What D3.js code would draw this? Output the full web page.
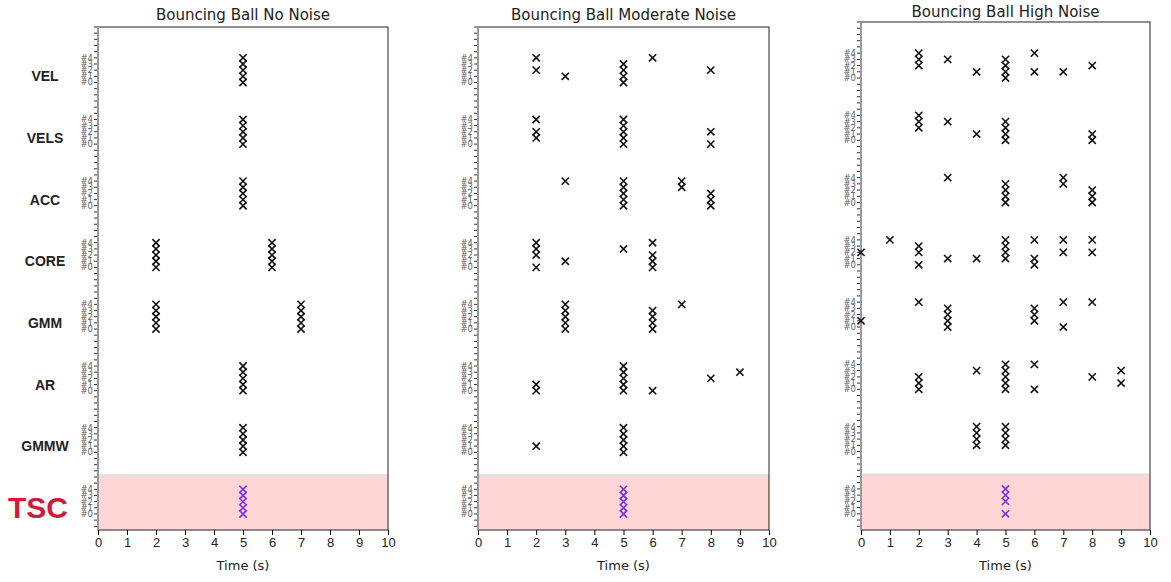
<!DOCTYPE html>
<html><head><meta charset="utf-8">
<script src="https://cdn.jsdelivr.net/npm/d3@7"></script>
<style>body{margin:0;background:#fff}svg{font-family:"DejaVu Sans",sans-serif}</style>
</head><body><svg id="c" width="1171" height="582"></svg>
<script>
const methods = ["VEL","VELS","ACC","CORE","GMM","AR","GMMW","TSC"];
const trialLabels = ["#0","#1","#2","#3","#4"];
const xTicks = [0,1,2,3,4,5,6,7,8,9,10];
const titles = ["Bouncing Ball No Noise","Bouncing Ball Moderate Noise","Bouncing Ball High Noise"];
// detections: [time, trial] per method per panel
const noNoise = {
  VEL:[[5,0],[5,1],[5,2],[5,3],[5,4]],
  VELS:[[5,0],[5,1],[5,2],[5,3],[5,4]],
  ACC:[[5,0],[5,1],[5,2],[5,3],[5,4]],
  CORE:[[2,0],[2,1],[2,2],[2,3],[2,4],[6,0],[6,1],[6,2],[6,3],[6,4]],
  GMM:[[2,0],[2,1],[2,2],[2,3],[2,4],[7,0],[7,1],[7,2],[7,3],[7,4]],
  AR:[[5,0],[5,1],[5,2],[5,3],[5,4]],
  GMMW:[[5,0],[5,1],[5,2],[5,3],[5,4]],
  TSC:[[5,0],[5,1],[5,2],[5,3],[5,4]]
};
const moderateNoise = {
  VEL:[[2,4],[2,2],[3,1],[5,0],[5,1],[5,2],[5,3],[6,4],[8,2]],
  VELS:[[2,4],[2,2],[2,1],[5,0],[5,1],[5,2],[5,3],[5,4],[8,2],[8,0]],
  ACC:[[3,4],[5,0],[5,1],[5,2],[5,3],[5,4],[7,4],[7,3],[8,2],[8,1],[8,0]],
  CORE:[[2,4],[2,3],[2,2],[2,0],[3,1],[5,3],[6,4],[6,2],[6,1],[6,0]],
  GMM:[[3,0],[3,1],[3,2],[3,3],[3,4],[6,0],[6,1],[6,2],[6,3],[7,4]],
  AR:[[2,1],[2,0],[5,0],[5,1],[5,2],[5,3],[5,4],[6,0],[8,2],[9,3]],
  GMMW:[[2,1],[5,0],[5,1],[5,2],[5,3],[5,4]],
  TSC:[[5,0],[5,1],[5,2],[5,3],[5,4]]
};
const highNoise = {
  VEL:[[2,4],[2,3],[2,2],[3,3],[4,1],[5,0],[5,1],[5,2],[5,3],[6,4],[6,1],[7,1],[8,2]],
  VELS:[[2,4],[2,3],[2,2],[3,3],[4,1],[5,0],[5,1],[5,2],[5,3],[8,1],[8,0]],
  ACC:[[3,4],[5,0],[5,1],[5,2],[5,3],[7,4],[7,3],[8,2],[8,1],[8,0]],
  CORE:[[0,2],[1,4],[2,3],[2,2],[2,0],[3,1],[4,1],[5,1],[5,2],[5,3],[5,4],[6,4],[6,1],[6,0],[7,4],[7,2],[8,4],[8,2]],
  GMM:[[0,1],[2,4],[3,0],[3,1],[3,2],[3,3],[6,1],[6,2],[6,3],[7,4],[7,0],[8,4]],
  AR:[[2,2],[2,1],[2,0],[4,3],[5,0],[5,1],[5,2],[5,3],[5,4],[6,4],[6,0],[8,2],[9,3],[9,1]],
  GMMW:[[4,1],[4,2],[4,3],[4,4],[5,1],[5,2],[5,3],[5,4]],
  TSC:[[5,0],[5,2],[5,3],[5,4]]
};
const panelsData = [noNoise, moderateNoise, highNoise];

const svg = d3.select("#c");
const frames = [
  {l:98,r:388,t:27,b:530,ty:15},
  {l:478,r:769,t:27,b:530,ty:15},
  {l:861,r:1150,t:22,b:530,ty:12}
];
const nRows = methods.length;
frames.forEach((f,pi)=>{
  const g = svg.append("g");
  const x = d3.scaleLinear().domain([0,10]).range([f.l,f.r]);
  const y = d3.scaleLinear().domain([-2.6, (nRows-1)*10+9]).range([f.b,f.t]);
  const base = m => (nRows-1-methods.indexOf(m))*10;
  g.append("rect").attr("x",f.l).attr("width",f.r-f.l)
    .attr("y",y(6.3)).attr("height",f.b-y(6.3)).attr("fill","#ffd6d6");
  g.append("line").attr("x1",f.l).attr("x2",f.r).attr("y1",y(6.3)).attr("y2",y(6.3))
    .attr("stroke","#ddd").attr("stroke-width",2);
  g.append("rect").attr("x",f.l).attr("y",f.t).attr("width",f.r-f.l).attr("height",f.b-f.t)
    .attr("fill","none").attr("stroke","#222").attr("stroke-width",1);
  const yt = d3.range(-2,(nRows-1)*10+10);
  g.selectAll(".yt").data(yt).join("line")
    .attr("x1",f.l-4).attr("x2",f.l).attr("y1",d=>y(d)).attr("y2",d=>y(d))
    .attr("stroke","#333").attr("stroke-width",1);
  g.append("line").attr("x1",f.l).attr("x2",f.l).attr("y1",f.t).attr("y2",f.b).attr("stroke","#999").attr("stroke-width",2);
  methods.forEach(m=>{
    trialLabels.forEach((lab,j)=>{
      g.append("text").attr("x",f.l-5).attr("y",y(base(m)+j)+3)
        .attr("text-anchor","end").attr("font-size",8.5).attr("fill","#666").text(lab);
    });
    if(pi===0){
      const isT = m==="TSC";
      g.append("text").attr("x",isT?38:45).attr("y",y(base(m)+1)+(isT?10:5))
        .attr("text-anchor","middle").attr("font-weight","bold")
        .attr("font-family","Liberation Sans, Arial, sans-serif")
        .attr("font-size",isT?30:14).attr("fill",isT?"#d01c3c":"#222").text(m);
    }
    const pts = panelsData[pi][m];
    const col = m==="TSC" ? "#7a2ee6" : "#111";
    g.selectAll(null).data(pts).join("path")
      .attr("d",d=>{const cx=x(d[0]), cy=y(base(m)+d[1]), s=3.6;
        return `M${cx-s},${cy-s}L${cx+s},${cy+s}M${cx-s},${cy+s}L${cx+s},${cy-s}`;})
      .attr("stroke",col).attr("stroke-width",1.6).attr("fill","none");
  });
  g.append("g").attr("transform",`translate(0,${f.b})`)
    .call(d3.axisBottom(x).tickValues(xTicks).tickFormat(d3.format("d")).tickSize(5).tickPadding(3))
    .call(a=>{a.select(".domain").remove();a.selectAll("text").attr("font-size",13).attr("fill","#222");});
  g.append("text").attr("x",(f.l+f.r)/2).attr("y",f.b+40).attr("text-anchor","middle")
    .attr("font-size",13).attr("fill","#222").text("Time (s)");
  g.append("text").attr("x",(f.l+f.r)/2).attr("y",f.ty+5).attr("text-anchor","middle")
    .attr("font-size",15).attr("fill","#222").text(titles[pi]);
});
</script></body></html>
